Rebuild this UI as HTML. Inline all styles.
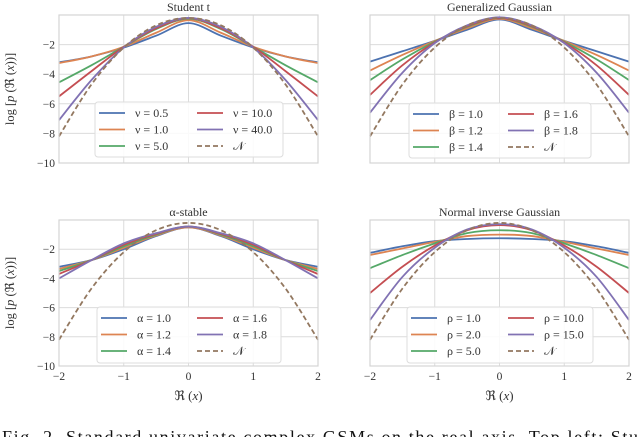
<!DOCTYPE html>
<html><head><meta charset="utf-8"><style>
html,body{margin:0;padding:0;background:#fff;width:640px;height:437px;overflow:hidden}
svg{display:block;font-family:"Liberation Serif",serif}
</style></head><body>
<svg id="fig" width="640" height="437" viewBox="0 0 640 437" xmlns="http://www.w3.org/2000/svg"></svg>
<script>
const xs = [-2,-1.5,-1,-0.5,0,0.5,1,1.5,2];
const yTicks = [-2,-4,-6,-8,-10];
const xTicks = [-2,-1,0,1,2];
const normalVals = [-8.2,-4.7,-2.2,-0.7,-0.2,-0.7,-2.2,-4.7,-8.2];
// Student t
const stLabels = ["ν = 0.5","ν = 1.0","ν = 5.0","ν = 10.0","ν = 40.0"];
const stNu05 = [-3.2,-2.8,-2.2,-1.4,-0.55,-1.4,-2.2,-2.8,-3.2];
const stNu1 = [-3.25,-2.8,-2.15,-1.2,-0.35,-1.2,-2.15,-2.8,-3.25];
const stNu5 = [-4.55,-3.4,-2.15,-0.95,-0.25,-0.95,-2.15,-3.4,-4.55];
const stNu10 = [-5.5,-3.8,-2.15,-0.9,-0.22,-0.9,-2.15,-3.8,-5.5];
const stNu40 = [-7.1,-4.4,-2.2,-0.8,-0.2,-0.8,-2.2,-4.4,-7.1];
// Generalized Gaussian
const ggLabels = ["β = 1.0","β = 1.2","β = 1.4","β = 1.6","β = 1.8"];
const ggB10 = [-3.15,-2.45,-1.75,-1.0,-0.3,-1.0,-1.75,-2.45,-3.15];
const ggB12 = [-3.75,-2.7,-1.75,-0.9,-0.25,-0.9,-1.75,-2.7,-3.75];
const ggB14 = [-4.4,-3.0,-1.8,-0.8,-0.2,-0.8,-1.8,-3.0,-4.4];
const ggB16 = [-5.4,-3.4,-1.85,-0.75,-0.2,-0.75,-1.85,-3.4,-5.4];
const ggB18 = [-6.6,-3.9,-1.9,-0.7,-0.15,-0.7,-1.9,-3.9,-6.6];
// alpha-stable
const asLabels = ["α = 1.0","α = 1.2","α = 1.4","α = 1.6","α = 1.8"];
const asA10 = [-3.2,-2.75,-2.0,-1.1,-0.5,-1.1,-2.0,-2.75,-3.2];
const asA12 = [-3.35,-2.75,-1.9,-1.05,-0.5,-1.05,-1.9,-2.75,-3.35];
const asA14 = [-3.5,-2.75,-1.8,-1.0,-0.45,-1.0,-1.8,-2.75,-3.5];
const asA16 = [-3.7,-2.75,-1.7,-0.95,-0.45,-0.95,-1.7,-2.75,-3.7];
const asA18 = [-4.0,-2.75,-1.6,-0.9,-0.45,-0.9,-1.6,-2.75,-4.0];
// Normal inverse Gaussian
const nigLabels = ["ρ = 1.0","ρ = 2.0","ρ = 5.0","ρ = 10.0","ρ = 15.0"];
const nigR1 = [-2.25,-1.8,-1.45,-1.3,-1.25,-1.3,-1.45,-1.8,-2.25];
const nigR2 = [-2.4,-1.95,-1.5,-1.1,-1.0,-1.1,-1.5,-1.95,-2.4];
const nigR5 = [-3.3,-2.4,-1.6,-0.9,-0.7,-0.9,-1.6,-2.4,-3.3];
const nigR10 = [-5.0,-3.2,-1.75,-0.7,-0.35,-0.7,-1.75,-3.2,-5.0];
const nigR15 = [-6.85,-3.9,-1.9,-0.65,-0.28,-0.65,-1.9,-3.9,-6.85];

const colors = ["#4C72B0","#DD8452","#55A868","#C44E52","#8172B3","#937860"];
const NS = "http://www.w3.org/2000/svg";
const svg = document.getElementById("fig");
function mk(tag, attrs, parent){const e=document.createElementNS(NS,tag);for(const k in attrs)e.setAttribute(k,attrs[k]);(parent||svg).appendChild(e);return e;}

const panels = [
 {key:"student-t", title:"Student t", x0:59,x1:318,y0:15,y1:163, series:[stNu05,stNu1,stNu5,stNu10,stNu40], labels:stLabels, leg:[95,102,188,55], ylab:true, xlab:false},
 {key:"generalized-gaussian", title:"Generalized Gaussian", x0:370,x1:629,y0:15,y1:163, series:[ggB10,ggB12,ggB14,ggB16,ggB18], labels:ggLabels, leg:[409,103,182,55], ylab:false, xlab:false},
 {key:"alpha-stable", title:"α-stable", x0:59,x1:318,y0:220,y1:366, series:[asA10,asA12,asA14,asA16,asA18], labels:asLabels, leg:[97,307,184,56], ylab:true, xlab:true},
 {key:"normal-inverse-gaussian", title:"Normal inverse Gaussian", x0:370,x1:629,y0:220,y1:366, series:[nigR1,nigR2,nigR5,nigR10,nigR15], labels:nigLabels, leg:[407,307,186,56], ylab:false, xlab:true}
];

function smoothPath(pts){
 let d="M"+pts[0][0].toFixed(2)+","+pts[0][1].toFixed(2);
 for(let i=0;i<pts.length-1;i++){
  const p0=pts[Math.max(0,i-1)],p1=pts[i],p2=pts[i+1],p3=pts[Math.min(pts.length-1,i+2)];
  const c1=[p1[0]+(p2[0]-p0[0])/6,p1[1]+(p2[1]-p0[1])/6];
  const c2=[p2[0]-(p3[0]-p1[0])/6,p2[1]-(p3[1]-p1[1])/6];
  d+=" C"+c1[0].toFixed(2)+","+c1[1].toFixed(2)+" "+c2[0].toFixed(2)+","+c2[1].toFixed(2)+" "+p2[0].toFixed(2)+","+p2[1].toFixed(2);
 }
 return d;
}

panels.forEach(p=>{
 const g=mk("g",{});
 
 
 const sx=v=>p.x0+(v+2)/4*(p.x1-p.x0);
 const sy=v=>p.y1-(v+10)/10*(p.y1-p.y0);
 xTicks.forEach(t=>{const l=mk("line",{x1:sx(t),x2:sx(t),y1:p.y0,y2:p.y1,stroke:"#dcdcdc","stroke-width":1},g);
  
  });
 yTicks.forEach(t=>{const l=mk("line",{x1:p.x0,x2:p.x1,y1:sy(t),y2:sy(t),stroke:"#dcdcdc","stroke-width":1},g);
  
  });
 const all=p.series.concat([normalVals]);
 all.forEach((vals,i)=>{
  const pts=xs.map((x,j)=>[sx(x),sy(vals[j])]);
  const a={d:smoothPath(pts),fill:"none",stroke:colors[i],"stroke-width":1.8};
  if(i===5){a["stroke-dasharray"]="5,3";}
  const path=mk("path",a,g);
  
  
 });
 const fr=mk("rect",{x:p.x0,y:p.y0,width:p.x1-p.x0,height:p.y1-p.y0,fill:"none",stroke:"#d4d4d4","stroke-width":1.2},g);
 
 
 const tt=mk("text",{x:(p.x0+p.x1)/2,y:p.y0-4,"text-anchor":"middle","font-size":12,fill:"#333"},g);
 tt.textContent=p.title;
 
 
 if(p.ylab){
  yTicks.forEach(t=>{const tx=mk("text",{x:p.x0-4,y:sy(t)+4,"text-anchor":"end","font-size":11.5,fill:"#333"},g);
   tx.textContent="−"+Math.abs(t);
   
   });
  const cy=(p.y0+p.y1)/2;
  const yl=mk("text",{x:14,y:cy,"text-anchor":"middle","font-size":12.5,fill:"#333",transform:"rotate(-90 14 "+cy+")"},g);
  yl.innerHTML='log [<tspan font-style="italic">p</tspan> (ℜ (<tspan font-style="italic">x</tspan>))]';
  
  
 }
 if(p.xlab){
  xTicks.forEach(t=>{const tx=mk("text",{x:sx(t),y:p.y1+14,"text-anchor":"middle","font-size":11.5,fill:"#333"},g);
   tx.textContent=t<0?"−"+Math.abs(t):String(t);
   
   });
  const xl=mk("text",{x:(p.x0+p.x1)/2,y:p.y1+34,"text-anchor":"middle","font-size":13,fill:"#333"},g);
  xl.innerHTML='ℜ (<tspan font-style="italic">x</tspan>)';
  
  
 }
 const [lx,ly,lw,lh]=p.leg;
 const lg=mk("g",{},g);
 
 
 mk("rect",{x:lx,y:ly,width:lw,height:lh,rx:3,fill:"rgba(255,255,255,0.85)",stroke:"#dddddd","stroke-width":1},lg);
 const labs=p.labels.concat(["𝒩"]);
 [0,1,2,3,4,5].forEach(i=>{
  const col=i<3?0:1,row=i%3;
  const yy=ly+11+row*16.5;
  const xa=lx+4+col*(lw/2+4);
  const ln=mk("line",{x1:xa,x2:xa+26,y1:yy,y2:yy,stroke:colors[i],"stroke-width":1.8},lg);
  if(i===5)ln.setAttribute("stroke-dasharray","5,3");
  
  
  const tx=mk("text",{x:xa+36,y:yy+4,"font-size":12,fill:"#333"},lg);
  tx.textContent=labs[i];
  
  
 });
});
const cap=mk("text",{x:2,y:443,"font-size":18,fill:"#111",textLength:636,lengthAdjust:"spacing"});
cap.textContent="Fig. 2.   Standard univariate complex GSMs on the real axis. Top left: Stu";


</script>
</body></html>
